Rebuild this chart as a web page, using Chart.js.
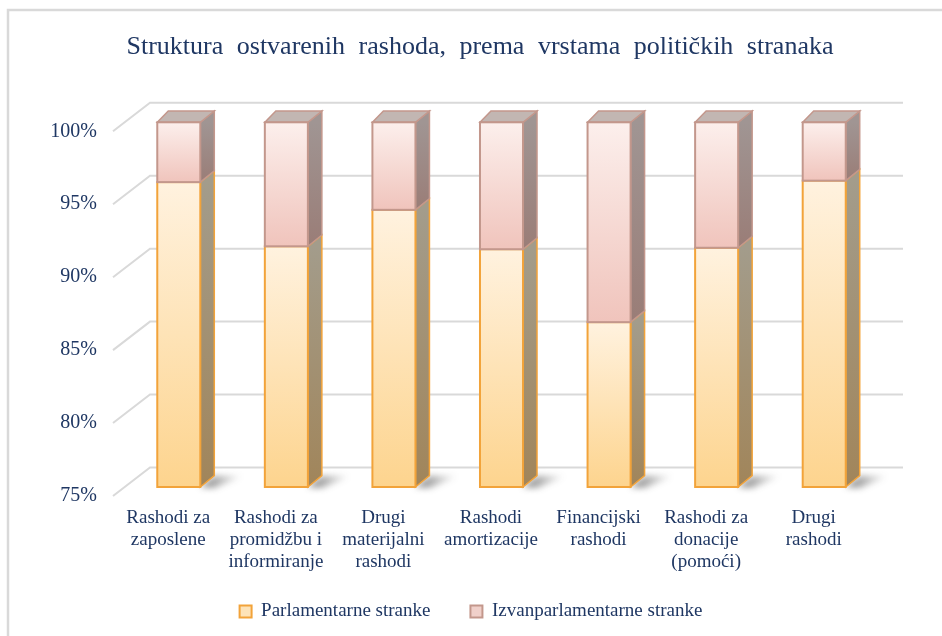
<!DOCTYPE html>
<html>
<head>
<meta charset="utf-8">
<script src="https://cdn.jsdelivr.net/npm/chart.js@4.4.0/dist/chart.umd.min.js"></script>
<style>
    html, body { margin: 0; padding: 0; background: #fff; }
    #wrap { width: 942px; height: 636px; }
</style>
</head>
<body>
<div id="wrap"><canvas id="chart"></canvas></div>
<script>
const categories = [
    ['Rashodi za', 'zaposlene'],
    ['Rashodi za', 'promidžbu i', 'informiranje'],
    ['Drugi', 'materijalni', 'rashodi'],
    ['Rashodi', 'amortizacije'],
    ['Financijski', 'rashodi'],
    ['Rashodi za', 'donacije', '(pomoći)'],
    ['Drugi', 'rashodi']
];
const parlamentarne = [95.9, 91.5, 94.0, 91.3, 86.3, 91.4, 96.0];
const izvanparlamentarne = [4.1, 8.5, 6.0, 8.7, 13.7, 8.6, 4.0];
const yTicks = [75, 80, 85, 90, 95, 100];

const NAVY = '#1f3763';
const SERIF = '"Liberation Serif", "Times New Roman", serif';

// 3d offsets, in pixels
const wallFront = { x: -12, y: 9 };
const wallBack = { x: 25, y: -19.5 };
const barDepth = { x: 14, y: -11.3 };

const looks = [
    { front: ['#fff2df', '#fdd48e'], side: ['#a39c8b', '#a1855a'], border: '#f2a33a' },
    { front: ['#fcefec', '#f0c4bc'], side: ['#a09593', '#9a7d77'], border: '#c3978c' }
];

function vgrad(ctx, top, bottom, c) {
    const g = ctx.createLinearGradient(0, top, 0, bottom);
    g.addColorStop(0, c[0]);
    g.addColorStop(1, c[1]);
    return g;
}

const threeD = {
    id: 'threeD',
    afterInit(chart) {
        // wider word gaps in the title and a small nudge right, like the original
        const tb = chart.titleBlock;
        const draw = tb.draw.bind(tb);
        tb.draw = function(area){
            chart.ctx.save();
            chart.ctx.wordSpacing = '7px';
            chart.ctx.translate(9, 0);
            draw(area);
            chart.ctx.restore();
        };
    },
    beforeDraw(chart) {
        const ctx = chart.ctx;
        ctx.save();
        ctx.strokeStyle = '#d9d9d9';
        ctx.lineWidth = 2.5;
        ctx.beginPath();
        ctx.moveTo(8, 640);
        ctx.lineTo(8, 10);
        ctx.lineTo(950, 10);
        ctx.stroke();
        ctx.restore();
    },
    beforeDatasetsDraw(chart) {
        const ctx = chart.ctx;
        const a = chart.chartArea;
        const y = chart.scales.y;

        ctx.save();
        // walls
        ctx.strokeStyle = '#d9d9d9';
        ctx.lineWidth = 2;
        yTicks.forEach(v => {
            const py = y.getPixelForValue(v);
            ctx.beginPath();
            ctx.moveTo(a.left + wallFront.x, py + wallFront.y);
            ctx.lineTo(a.left + wallBack.x, py + wallBack.y);
            ctx.lineTo(a.right + wallBack.x, py + wallBack.y);
            ctx.stroke();
        });

        const metas = [chart.getDatasetMeta(0), chart.getDatasetMeta(1)];
        const n = metas[0].data.length;

        for (let i = 0; i < n; i++) {
            const segs = metas.map(m => {
                const p = m.data[i].getProps(['x', 'y', 'base', 'width'], true);
                return {
                    l: p.x - p.width / 2,
                    r: p.x + p.width / 2,
                    top: p.y,
                    bottom: Math.min(p.base, a.bottom)
                };
            });

            // floor shadow
            const s = segs[0];
            ctx.save();
            ctx.filter = 'blur(3px)';
            const sg = ctx.createLinearGradient(s.r, 0, s.r + 42, 0);
            sg.addColorStop(0, 'rgba(40,40,40,0.6)');
            sg.addColorStop(1, 'rgba(40,40,40,0)');
            ctx.fillStyle = sg;
            ctx.beginPath();
            ctx.moveTo(s.r, s.bottom);
            ctx.lineTo(s.r + barDepth.x, s.bottom + barDepth.y);
            ctx.lineTo(s.r + barDepth.x + 30, s.bottom + barDepth.y);
            ctx.lineTo(s.r + 14, s.bottom + 1);
            ctx.closePath();
            ctx.fill();
            ctx.restore();

            ctx.lineJoin = 'miter';
            // side faces
            segs.forEach((g, k) => {
                const lk = looks[k];
                ctx.beginPath();
                ctx.moveTo(g.r, g.top);
                ctx.lineTo(g.r + barDepth.x, g.top + barDepth.y);
                ctx.lineTo(g.r + barDepth.x, g.bottom + barDepth.y);
                ctx.lineTo(g.r, g.bottom);
                ctx.closePath();
                ctx.fillStyle = vgrad(ctx, g.top, g.bottom, lk.side);
                ctx.fill();
                ctx.strokeStyle = lk.border;
                ctx.lineWidth = 1.5;
                ctx.stroke();
            });

            // top face
            const t = segs[segs.length - 1];
            ctx.beginPath();
            ctx.moveTo(t.l, t.top);
            ctx.lineTo(t.l + barDepth.x - 3, t.top + barDepth.y);
            ctx.lineTo(t.r + barDepth.x, t.top + barDepth.y);
            ctx.lineTo(t.r, t.top);
            ctx.closePath();
            ctx.fillStyle = '#c2b6b2';
            ctx.fill();
            ctx.strokeStyle = looks[1].border;
            ctx.lineWidth = 1.5;
            ctx.stroke();

            // front faces
            segs.forEach((g, k) => {
                const lk = looks[k];
                ctx.fillStyle = vgrad(ctx, g.top, g.bottom, lk.front);
                ctx.fillRect(g.l, g.top, g.r - g.l, g.bottom - g.top);
                ctx.strokeStyle = lk.border;
                ctx.lineWidth = 2;
                ctx.strokeRect(g.l, g.top, g.r - g.l, g.bottom - g.top);
            });
        }
        ctx.restore();
        return false;
    }
};

new Chart(document.getElementById('chart'), {
    type: 'bar',
    data: {
        labels: categories,
        datasets: [
            {
                label: 'Parlamentarne stranke',
                data: parlamentarne,
                backgroundColor: '#fde3b8',
                borderColor: '#f2a33a',
                borderWidth: 2
            },
            {
                label: 'Izvanparlamentarne stranke',
                data: izvanparlamentarne,
                backgroundColor: '#f0d0ca',
                borderColor: '#c3978c',
                borderWidth: 2
            }
        ]
    },
    options: {
        responsive: true,
        maintainAspectRatio: false,
        animation: false,
        categoryPercentage: 1,
        barPercentage: 0.4,
        layout: { padding: { left: 0, right: 0, top: 0, bottom: 5 } },
        scales: {
            x: {
                stacked: true,
                grid: { display: false, drawTicks: false },
                border: { display: false },
                ticks: {
                    color: NAVY,
                    padding: 20,
                    labelOffset: -10.5,
                    maxRotation: 0,
                    autoSkip: false,
                    font: { family: SERIF, size: 19, lineHeight: 1.16 }
                },
                afterFit(s){
                    s.height = 75;
                    // three-line labels run into the legend band, so don't clip them
                    s._computeLabelArea = () => undefined;
                }
            },
            y: {
                stacked: true,
                min: yTicks[0],
                max: yTicks[yTicks.length - 1],
                grid: { display: false, drawTicks: false },
                border: { display: false },
                ticks: {
                    stepSize: 5,
                    color: NAVY,
                    padding: 28,
                    labelOffset: 9,
                    font: { family: SERIF, size: 20 },
                    callback: v => v + '%'
                },
                afterFit(s){ s.width = 125; }
            },
            yRight: {
                position: 'right',
                display: true,
                grid: { display: false, drawTicks: false },
                border: { display: false },
                ticks: { display: false },
                afterFit(s){ s.width = 64; }
            }
        },
        plugins: {
            title: {
                display: true,
                text: 'Struktura ostvarenih rashoda, prema vrstama političkih stranaka',
                color: NAVY,
                font: { family: SERIF, size: 26, weight: 'normal', lineHeight: 1.2 },
                padding: { top: 31.5, bottom: 59.6 }
            },
            legend: {
                position: 'bottom',
                labels: {
                    color: NAVY,
                    boxWidth: 12,
                    boxHeight: 12,
                    padding: 40,
                    font: { family: SERIF, size: 19 }
                }
            },
            tooltip: { enabled: false }
        }
    },
    plugins: [threeD]
});
</script>
</body>
</html>
